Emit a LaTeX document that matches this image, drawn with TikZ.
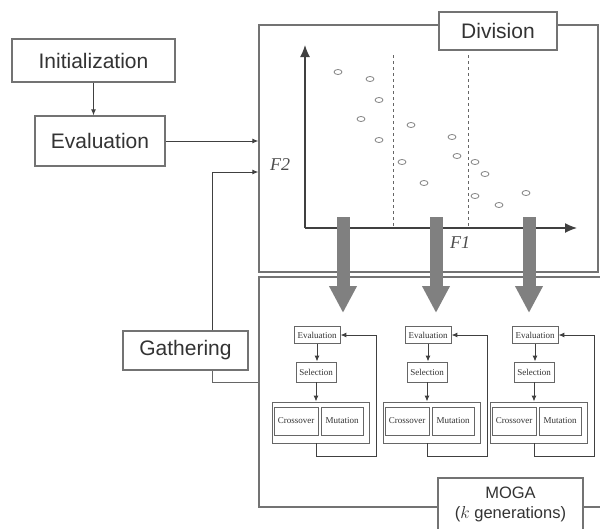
\documentclass[tikz,border=0pt]{standalone}
\usepackage{fontspec}
\setmainfont{Liberation Sans}
\newfontfamily\serifface{Liberation Serif}
\usetikzlibrary{arrows.meta,shapes.geometric}

\begin{document}
\begin{tikzpicture}[
    x=1pt, y=-1pt,
    box/.style={rectangle, draw=black!55, line width=1.2pt, fill=white, text=black!80, inner sep=2pt, font=\fontsize{21}{24}\selectfont},
    panel/.style={rectangle, draw=black!55, line width=1.2pt, inner sep=0pt},
    smallbox/.style={rectangle, draw=black!60, line width=0.9pt, fill=white, inner sep=1pt, text=black!80, font=\serifface\fontsize{9}{10}\selectfont},
    arrow/.style={-{Latex[length=6pt,width=5pt]}, line width=1pt, draw=black!75},
    link/.style={line width=1pt, draw=black!60},
    axis/.style={-{Latex[length=12pt,width=10pt]}, line width=1.3pt, draw=black!75},
    divider/.style={dashed, line width=0.8pt, draw=black!60},
    point/.style={ellipse, draw=black!50, line width=0.8pt, minimum width=8pt, minimum height=5pt, inner sep=0pt},
    axislabel/.style={font=\serifface\itshape\fontsize{18}{20}\selectfont, text=black!70},
    bigarrow/.style={-{Triangle[length=27pt,width=26pt]}, line width=13pt, draw=black!50}
]
    \useasboundingbox (0,0) rectangle (600,528);

    % panels
    \node[panel, minimum width=339pt, minimum height=247pt] (divpanel) at (428.5,148.5) {};
    \node[panel, minimum width=343pt, minimum height=230pt] (mogapanel) at (430.5,392) {};
    \node[box, minimum width=118pt, minimum height=38pt] (divlabel) at (498,31) {Division};
    \node[box, minimum width=145pt, minimum height=52pt, align=center, font=\fontsize{16.5}{20}\selectfont] (mogalabel) at (510.5,504) {MOGA\\($k$ generations)};

    % left column
    \node[box, minimum width=163pt, minimum height=43pt] (init) at (93.5,60.5) {Initialization};
    \node[box, minimum width=130pt, minimum height=50pt] (evalmain) at (100,141) {Evaluation};
    \draw[arrow] (init.south) -- (init.south |- evalmain.north);
    \draw[arrow] (evalmain.east) -- (evalmain.east -| divpanel.west);

    \node[box, minimum width=125pt, minimum height=39pt] (gather) at (185.5,350.5) {Gathering};
    \draw[link] ([yshift=10pt]mogapanel.west) -| ([xshift=26.5pt]gather.south);
    \draw[arrow] ([xshift=26.5pt]gather.north) |- ([yshift=-23.5pt]divpanel.west);

    % objective space
    \coordinate (origin) at (305,228);
    \coordinate (ytop) at (305,45);
    \coordinate (xend) at (577,228);
    \draw[divider] (393,55) -- (393,228);
    \draw[divider] (468,55) -- (468,228);
    \draw[axis] (origin) -- (ytop);
    \draw[axis] (origin) -- (xend);
    \node[axislabel] (f2) at (280,165) {F2};
    \node[axislabel] (f1) at (460,243) {F1};

    \foreach \px/\py [count=\i] in {338/72, 370/79, 379/100, 361/119, 379/140, 411/125, 402/162, 424/183,
                                   452/137, 457/156, 475/162, 485/174, 475/196, 499/205, 526/193}
        \node[point] (p\i) at (\px,\py) {};

    % sub-populations
    \foreach \c/\x/\s in {a/272/343, b/383/436, c/490/529} {
        \coordinate (slice\c) at (\s,217);
        \coordinate (tip\c) at (\s,313);
        \draw[bigarrow] (slice\c) -- (tip\c);

        \node[smallbox, minimum width=46pt, minimum height=17pt] (eval\c) at (\x+45,335) {Evaluation};
        \node[smallbox, minimum width=40pt, minimum height=20pt] (sel\c) at (\x+44,372) {Selection};
        \node[smallbox, minimum width=97pt, minimum height=41pt] (ops\c) at (\x+48.5,422.5) {};
        \node[smallbox, minimum width=44pt, minimum height=28pt] (cross\c) at (\x+24,421) {Crossover};
        \node[smallbox, minimum width=42pt, minimum height=28pt] (mut\c) at (\x+70,421) {Mutation};

        \draw[arrow] (eval\c.south) -- (eval\c.south |- sel\c.north);
        \draw[arrow] (sel\c.south) -- (sel\c.south |- ops\c.north);
        \draw[arrow] ([xshift=-4.5pt]ops\c.south) -- ++(0,13) -- ++(60,0) |- (eval\c.east);
    }
\end{tikzpicture}
\end{document}
